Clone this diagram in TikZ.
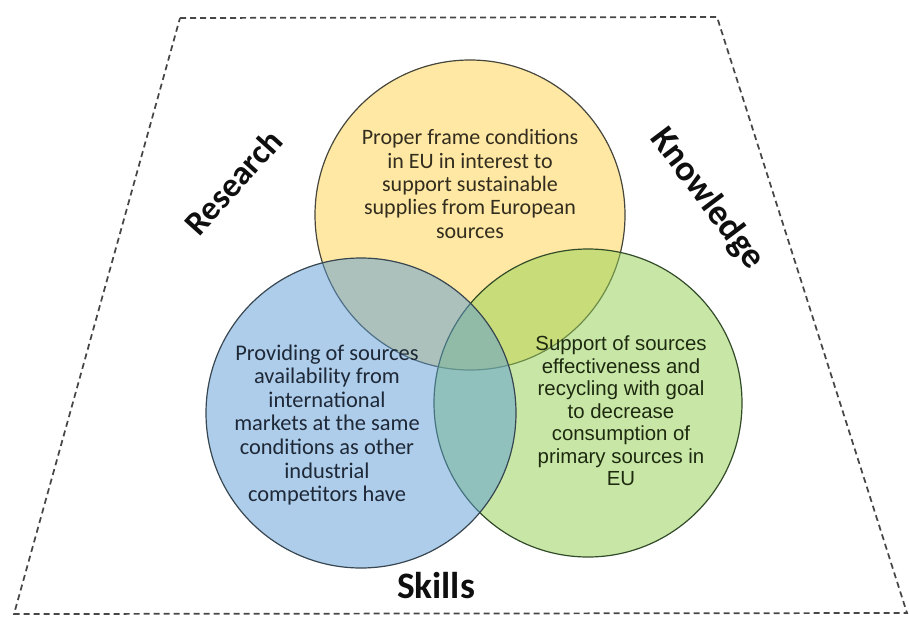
\documentclass[tikz,border=0pt]{standalone}
\usepackage{fontspec}
\setmainfont{Carlito}
\newfontfamily\arialfont{Liberation Sans}

\begin{document}
\begin{tikzpicture}[x=0.75pt,y=0.75pt,yscale=-1,xscale=1]
	\useasboundingbox (0,0) rectangle (909,617);
	
	%Shape: Trapezoid [dashed frame]
	\draw [color={rgb, 255:red, 70; green, 70; blue, 70 }, line width=1.3pt, dash pattern=on 4.5pt off 3pt] (180,18) -- (717,17) -- (907,613) -- (14,614) -- cycle ;
	
	%Shape: Circle [yellow]
	\draw [color={rgb, 255:red, 70; green, 70; blue, 60 }, line width=0.9pt, fill={rgb, 255:red, 255; green, 217; blue, 102 }, fill opacity=0.6] (470,215) circle (155) ;
	%Shape: Circle [green]
	\draw [color={rgb, 255:red, 50; green, 75; blue, 40 }, line width=0.9pt, fill={rgb, 255:red, 146; green, 208; blue, 80 }, fill opacity=0.5] (588,403) circle (154) ;
	%Shape: Circle [blue]
	\draw [color={rgb, 255:red, 55; green, 70; blue, 80 }, line width=0.9pt, fill={rgb, 255:red, 91; green, 155; blue, 213 }, fill opacity=0.5] (361,413) circle (155) ;
	
	% Text Node
	\node (frame) [align=center, inner sep=0.75pt, text={rgb, 255:red, 50; green, 45; blue, 30 }, font=\fontsize{16.5}{17.5}\selectfont] at (470,184) {Proper frame conditions\\in EU in interest to\\support sustainable\\supplies from European\\sources};
	% Text Node
	\node (providing) [align=center, inner sep=0.75pt, text={rgb, 255:red, 30; green, 40; blue, 55 }, font=\fontsize{16.8}{17.7}\selectfont] at (327,425) {Providing of sources\\availability from\\international\\markets at the same\\conditions as other\\industrial\\competitors have};
	% Text Node
	\node (support) [align=center, inner sep=0.75pt, text={rgb, 255:red, 30; green, 42; blue, 15 }, font=\arialfont\fontsize{15.3}{16.9}\selectfont] at (621,411) {Support of sources\\effectiveness and\\recycling with goal\\to decrease\\consumption of\\primary sources in\\EU};
	
	% Text Node
	\node (research) [inner sep=0.75pt, rotate=48, text={rgb, 255:red, 15; green, 15; blue, 15 }, font=\bfseries\fontsize{25.5}{30}\selectfont] at (233,182) {Research};
	% Text Node
	\node (knowledge) [inner sep=0.75pt, rotate=-53, text={rgb, 255:red, 15; green, 15; blue, 15 }, font=\bfseries\fontsize{27}{30}\selectfont] at (707,199) {Knowledge};
	% Text Node
	\node (skills) [inner sep=0.75pt, text={rgb, 255:red, 15; green, 15; blue, 15 }, font=\bfseries\fontsize{28}{30}\selectfont] at (436,586) {Skills};
	
\end{tikzpicture}
\end{document}
